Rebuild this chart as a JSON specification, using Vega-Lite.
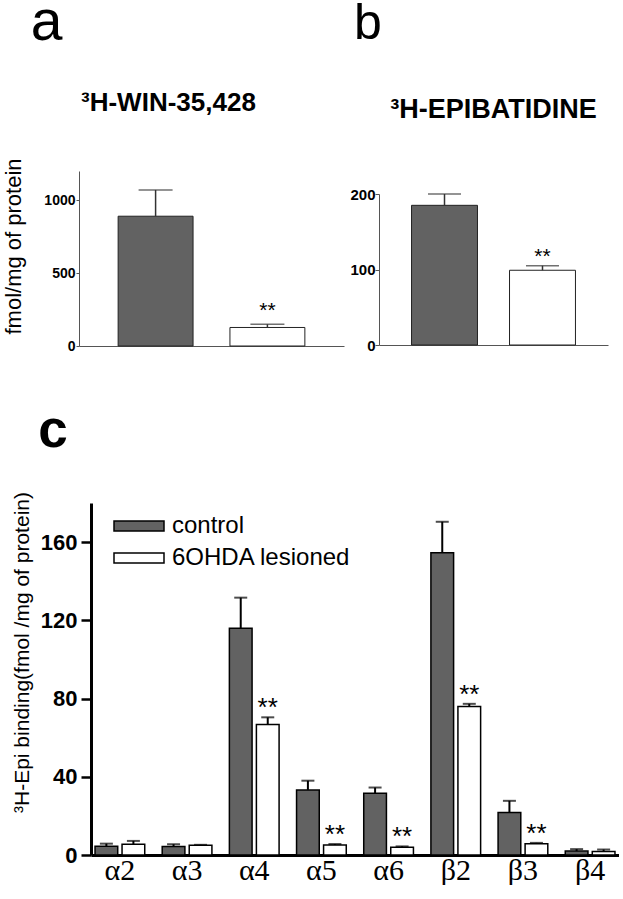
{
  "$schema": "https://vega.github.io/schema/vega-lite/v6.json",
  "padding": {"left": 2, "top": -7, "right": 0, "bottom": 0},
  "background": "white",
  "config": {
    "view": {"stroke": null},
    "font": "Liberation Sans",
    "title": {"color": "black", "font": "Liberation Sans"},
    "axis": {"grid": false, "labelColor": "black", "titleColor": "black", "labelFont": "Liberation Sans", "titleFont": "Liberation Sans"}
  },
  "columns": 1,
  "align": "none",
  "spacing": 51,
  "resolve": {"scale": {"fill": "independent"}, "legend": {"fill": "independent"}},
  "concat": [
    {
      "align": "none",
      "spacing": 5,
      "concat": [
        {
          "title": {"text": "a", "fontSize": 57, "fontWeight": "normal", "anchor": "start", "frame": "bounds", "dx": 28, "offset": 38},
          "vconcat": [
            {
              "title": {"text": "³H-WIN-35,428", "fontSize": 26, "fontWeight": "bold", "anchor": "middle", "frame": "bounds", "dx": -5, "offset": 42},
              "width": 265,
              "height": 175,
              "data": {"values": [
                {"group": "control", "v": 890, "e": 1070, "star": ""},
                {"group": "6OHDA lesioned", "v": 127, "e": 149, "star": "**"}
              ]},
              "encoding": {
                "x": {"field": "group", "type": "nominal", "sort": null, "scale": {"paddingInner": 0.33, "paddingOuter": 0.35},
                      "axis": {"title": null, "labels": false, "ticks": false, "domainColor": "#555", "domainWidth": 1}}
              },
              "layer": [
                {
                  "mark": {"type": "bar", "stroke": "#222", "strokeWidth": 1},
                  "encoding": {
                    "y": {"field": "v", "type": "quantitative", "scale": {"domain": [0, 1110]},
                          "axis": {"title": "fmol/mg of protein", "values": [0, 500, 1000], "format": "d", "tickSize": 3, "tickColor": "#555", "domainColor": "#555", "domainWidth": 1,
                                   "labelFontSize": 14, "labelFontWeight": "bold", "labelPadding": 1,
                                   "titleFontSize": 22, "titleFontWeight": "normal", "titlePadding": 18, "titleY": 75}},
                    "fill": {"field": "group", "type": "nominal", "scale": {"domain": ["control", "6OHDA lesioned"], "range": ["#626262", "white"]}, "legend": null}
                  }
                },
                {
                  "mark": {"type": "rule", "strokeWidth": 1.5, "color": "#333"},
                  "encoding": {"y": {"field": "v", "type": "quantitative"}, "y2": {"field": "e"}}
                },
                {
                  "mark": {"type": "tick", "orient": "horizontal", "size": 34, "thickness": 1.5, "color": "#333"},
                  "encoding": {"y": {"field": "e", "type": "quantitative"}}
                },
                {
                  "mark": {"type": "text", "fontSize": 21, "baseline": "alphabetic", "dy": -7, "color": "black"},
                  "encoding": {"y": {"field": "e", "type": "quantitative"}, "text": {"field": "star"}}
                }
              ]
            }
          ]
        },
        {
          "title": {"text": "b", "fontSize": 50, "fontWeight": "normal", "anchor": "start", "frame": "bounds", "dx": 4, "offset": 47},
          "vconcat": [
            {
              "title": {"text": "³H-EPIBATIDINE", "fontSize": 27, "fontWeight": "bold", "anchor": "middle", "frame": "group", "dx": 0, "offset": 47},
              "width": 229,
              "height": 174,
              "data": {"values": [
                {"group": "control", "v": 185, "e": 200, "star": ""},
                {"group": "6OHDA lesioned", "v": 99, "e": 105, "star": "**"}
              ]},
              "encoding": {
                "x": {"field": "group", "type": "nominal", "sort": null, "scale": {"paddingInner": 0.327, "paddingOuter": 0.332},
                      "axis": {"title": null, "labels": false, "ticks": false, "domainColor": "#555", "domainWidth": 1}}
              },
              "layer": [
                {
                  "mark": {"type": "bar", "stroke": "#222", "strokeWidth": 1},
                  "encoding": {
                    "y": {"field": "v", "type": "quantitative", "scale": {"domain": [0, 200], "range": [174, 23]},
                          "axis": {"title": null, "values": [0, 100, 200], "tickSize": 4, "tickColor": "#555", "domainColor": "#555", "domainWidth": 1,
                                   "labelFontSize": 15, "labelFontWeight": "bold", "labelPadding": 0}},
                    "fill": {"field": "group", "type": "nominal", "scale": {"domain": ["control", "6OHDA lesioned"], "range": ["#626262", "white"]}, "legend": null}
                  }
                },
                {
                  "mark": {"type": "rule", "strokeWidth": 1.5, "color": "#333"},
                  "encoding": {"y": {"field": "v", "type": "quantitative"}, "y2": {"field": "e"}}
                },
                {
                  "mark": {"type": "tick", "orient": "horizontal", "size": 33, "thickness": 1.5, "color": "#333"},
                  "encoding": {"y": {"field": "e", "type": "quantitative"}}
                },
                {
                  "mark": {"type": "text", "fontSize": 21, "baseline": "alphabetic", "dy": -3, "color": "black"},
                  "encoding": {"y": {"field": "e", "type": "quantitative"}, "text": {"field": "star"}}
                }
              ]
            }
          ]
        }
      ]
    },
    {
      "title": {"text": "c", "fontSize": 53, "fontWeight": "bold", "anchor": "start", "frame": "bounds", "dx": 27, "offset": 34},
      "width": 540,
      "height": 352,
      "data": {"values": [
        {"sub": "α2", "group": "control", "v": 4.5, "e": 5.8, "star": ""},
        {"sub": "α2", "group": "6OHDA lesioned", "v": 5.5, "e": 7.2, "star": ""},
        {"sub": "α3", "group": "control", "v": 4.3, "e": 5.5, "star": ""},
        {"sub": "α3", "group": "6OHDA lesioned", "v": 5.0, "e": 5.2, "star": ""},
        {"sub": "α4", "group": "control", "v": 116, "e": 131.6, "star": ""},
        {"sub": "α4", "group": "6OHDA lesioned", "v": 66.7, "e": 70.4, "star": "**"},
        {"sub": "α5", "group": "control", "v": 33.3, "e": 38, "star": ""},
        {"sub": "α5", "group": "6OHDA lesioned", "v": 5.1, "e": 5.6, "star": "**"},
        {"sub": "α6", "group": "control", "v": 31.6, "e": 34.5, "star": ""},
        {"sub": "α6", "group": "6OHDA lesioned", "v": 3.9, "e": 4.4, "star": "**"},
        {"sub": "β2", "group": "control", "v": 154.5, "e": 170.4, "star": ""},
        {"sub": "β2", "group": "6OHDA lesioned", "v": 76, "e": 77.3, "star": "**"},
        {"sub": "β3", "group": "control", "v": 21.7, "e": 27.7, "star": ""},
        {"sub": "β3", "group": "6OHDA lesioned", "v": 5.8, "e": 6.2, "star": "**"},
        {"sub": "β4", "group": "control", "v": 2.0, "e": 3.0, "star": ""},
        {"sub": "β4", "group": "6OHDA lesioned", "v": 1.8, "e": 2.8, "star": ""}
      ]},
      "encoding": {
        "x": {"field": "sub", "type": "nominal", "sort": null, "scale": {"range": [12, 540], "paddingInner": 0.26, "paddingOuter": 0.06},
              "axis": {"title": null, "labelAngle": 0, "ticks": false, "domainWidth": 3, "domainColor": "black",
                       "labelFont": "Liberation Serif", "labelFontSize": 30, "labelPadding": 0}},
        "xOffset": {"field": "group", "type": "nominal", "sort": null, "scale": {"paddingInner": 0.16, "paddingOuter": 0}}
      },
      "layer": [
        {
          "mark": {"type": "bar", "stroke": "black", "strokeWidth": 1.5},
          "encoding": {
            "y": {"field": "v", "type": "quantitative", "scale": {"domain": [0, 180]},
                  "axis": {"title": "³H-Epi binding(fmol /mg of protein)", "offset": -12, "values": [0, 40, 80, 120, 160], "tickSize": 10, "tickWidth": 2.5, "tickColor": "black",
                           "domainColor": "black", "domainWidth": 3, "labelFontSize": 22, "labelFontWeight": "bold", "labelPadding": 4,
                           "titleFontSize": 21, "titleFontWeight": "normal", "titlePadding": 8, "titleY": 149}},
            "fill": {"field": "group", "type": "nominal", "scale": {"domain": ["control", "6OHDA lesioned"], "range": ["#626262", "white"]},
                     "legend": {"title": null, "orient": "none", "legendX": 34, "legendY": 8, "symbolType": "M-1,-0.2H1V0.2H-1Z", "symbolSize": 2500,
                                "symbolStrokeColor": "black", "symbolStrokeWidth": 1.5, "symbolOpacity": 1, "labelFontSize": 24, "labelColor": "black",
                                "labelOffset": 7, "clipHeight": 30, "rowPadding": 2, "padding": 0, "labelLimit": 400,
                                "encode": {"symbols": {"update": {"stroke": {"value": "black"}, "strokeWidth": {"value": 1.5}}}}}}
          }
        },
        {
          "mark": {"type": "rule", "strokeWidth": 2, "color": "black"},
          "encoding": {"y": {"field": "v", "type": "quantitative"}, "y2": {"field": "e"}}
        },
        {
          "mark": {"type": "tick", "orient": "horizontal", "size": 13, "thickness": 2, "color": "black"},
          "encoding": {"y": {"field": "e", "type": "quantitative"}}
        },
        {
          "mark": {"type": "text", "fontSize": 26, "baseline": "alphabetic", "dy": -1, "color": "black"},
          "encoding": {"y": {"field": "e", "type": "quantitative"}, "text": {"field": "star"}}
        }
      ]
    }
  ]
}
